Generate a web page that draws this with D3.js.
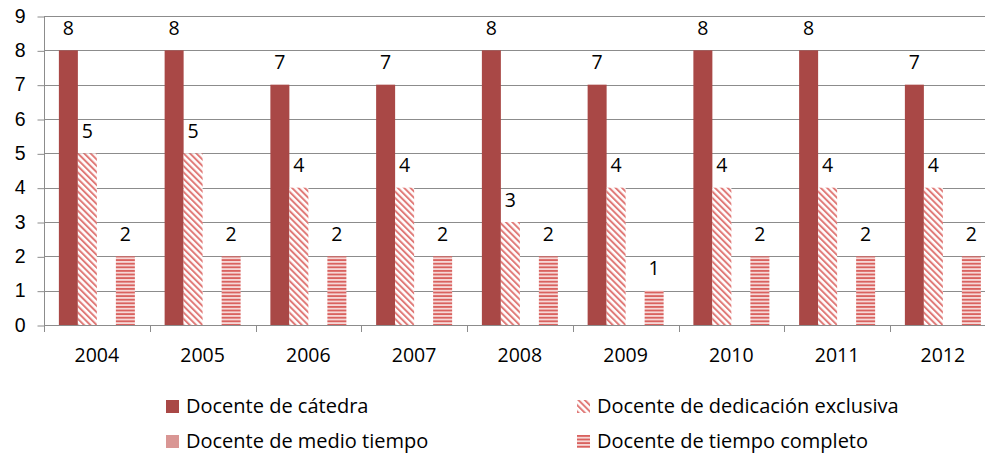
<!DOCTYPE html>
<html><head><meta charset="utf-8">
<script src="https://cdn.jsdelivr.net/npm/d3@7"></script>
<style>body{margin:0;background:#fff;} svg{display:block;font-family:"Open Sans",Carlito,Calibri,sans-serif;}</style>
</head><body><svg id="c" width="985" height="457"></svg>
<script>
const years = ["2004","2005","2006","2007","2008","2009","2010","2011","2012"];
const seriesNames = ["Docente de cátedra","Docente de dedicación exclusiva","Docente de medio tiempo","Docente de tiempo completo"];
const catedra = [8,8,7,7,8,7,8,8,7];
const exclusiva = [5,5,4,4,3,4,4,4,4];
const medio = [null,null,null,null,null,null,null,null,null];
const completo = [2,2,2,2,2,1,2,2,2];
const yTicks = [0,1,2,3,4,5,6,7,8,9];
const seriesValues = [catedra, exclusiva, medio, completo];

const FS = 19.5;
const svg = d3.select("#c");
const defs = svg.append("defs");
const pd = defs.append("pattern").attr("id","pDiag").attr("patternUnits","userSpaceOnUse")
  .attr("width",4.5).attr("height",4.5).attr("patternTransform","rotate(-45)");
pd.append("rect").attr("width",4.5).attr("height",4.5).attr("fill","#fff");
pd.append("rect").attr("width",2).attr("height",4.5).attr("fill","#E07A78");
const ph = defs.append("pattern").attr("id","pHor").attr("patternUnits","userSpaceOnUse")
  .attr("width",6).attr("height",3.6);
ph.append("rect").attr("width",6).attr("height",3.6).attr("fill","#F6D8D7");
ph.append("rect").attr("width",6).attr("height",1.8).attr("fill","#D9625F");

const fills = ["#A94846","url(#pDiag)","#D99694","url(#pHor)"];

const x = d3.scaleBand().domain(years).range([44, 995.75]).paddingInner(0).paddingOuter(0);
const x1 = d3.scaleBand().domain(d3.range(4)).range([0, x.bandwidth()]).paddingInner(0).paddingOuter(0.783);
const y = d3.scaleLinear().domain([0,9]).range([325,16]);

svg.append("g").selectAll("line").data(yTicks.filter(d=>d>0)).join("line")
  .attr("x1",44).attr("x2",985).attr("y1",d=>Math.round(y(d))+0.5).attr("y2",d=>Math.round(y(d))+0.5)
  .attr("stroke","#8C8C8C").attr("stroke-width",1);

const groups = svg.append("g").selectAll("g").data(years).join("g")
  .attr("transform",d=>`translate(${x(d)},0)`);
groups.each(function(yr, i){
  const g = d3.select(this);
  seriesValues.forEach((vals, s) => {
    const v = vals[i];
    if (v == null) return;
    g.append("rect").attr("x",x1(s)).attr("width",x1.bandwidth())
      .attr("y",y(v)).attr("height",y(0)-y(v)).attr("fill",fills[s]);
    g.append("text").attr("x",x1(s)+x1.bandwidth()/2).attr("y",y(v)-15.5)
      .attr("text-anchor","middle").attr("font-size",FS).attr("fill","#000").text(v);
  });
});

const yAxis = d3.axisLeft(y).tickValues(yTicks).tickSize(7).tickPadding(12).tickFormat(d3.format("d"));
const ya = svg.append("g").attr("transform","translate(44.5,0)").call(yAxis);
ya.select(".domain").remove();
ya.append("line").attr("x1",0).attr("x2",0).attr("y1",16).attr("y2",332).attr("stroke","#8C8C8C");
ya.selectAll(".tick line").attr("stroke","#8C8C8C").attr("transform","translate(0,0.5)");
ya.selectAll(".tick text").attr("font-size",FS).attr("fill","#000").attr("font-family",null);

svg.append("line").attr("x1",44).attr("x2",985).attr("y1",325.5).attr("y2",325.5).attr("stroke","#8C8C8C");
const bounds = years.map(d=>x(d)).concat([x(years[years.length-1])+x.bandwidth()]);
svg.append("g").selectAll("line").data(bounds).join("line")
  .attr("x1",d=>Math.round(d)+0.5).attr("x2",d=>Math.round(d)+0.5).attr("y1",325).attr("y2",332)
  .attr("stroke","#8C8C8C");
svg.append("g").selectAll("text").data(years).join("text")
  .attr("x",d=>x(d)+x.bandwidth()/2).attr("y",362).attr("text-anchor","middle")
  .attr("font-size",FS).attr("fill","#000").text(d=>d);

const legPos = [[166,400],[577,400],[166,435],[577,435]];
const leg = svg.append("g").selectAll("g").data(seriesNames).join("g")
  .attr("transform",(d,i)=>`translate(${legPos[i][0]},${legPos[i][1]})`);
leg.append("rect").attr("width",13).attr("height",13).attr("fill",(d,i)=>fills[i]);
leg.append("text").attr("x",20).attr("y",12.5).attr("font-size",20).attr("fill","#000").text(d=>d);
</script></body></html>
